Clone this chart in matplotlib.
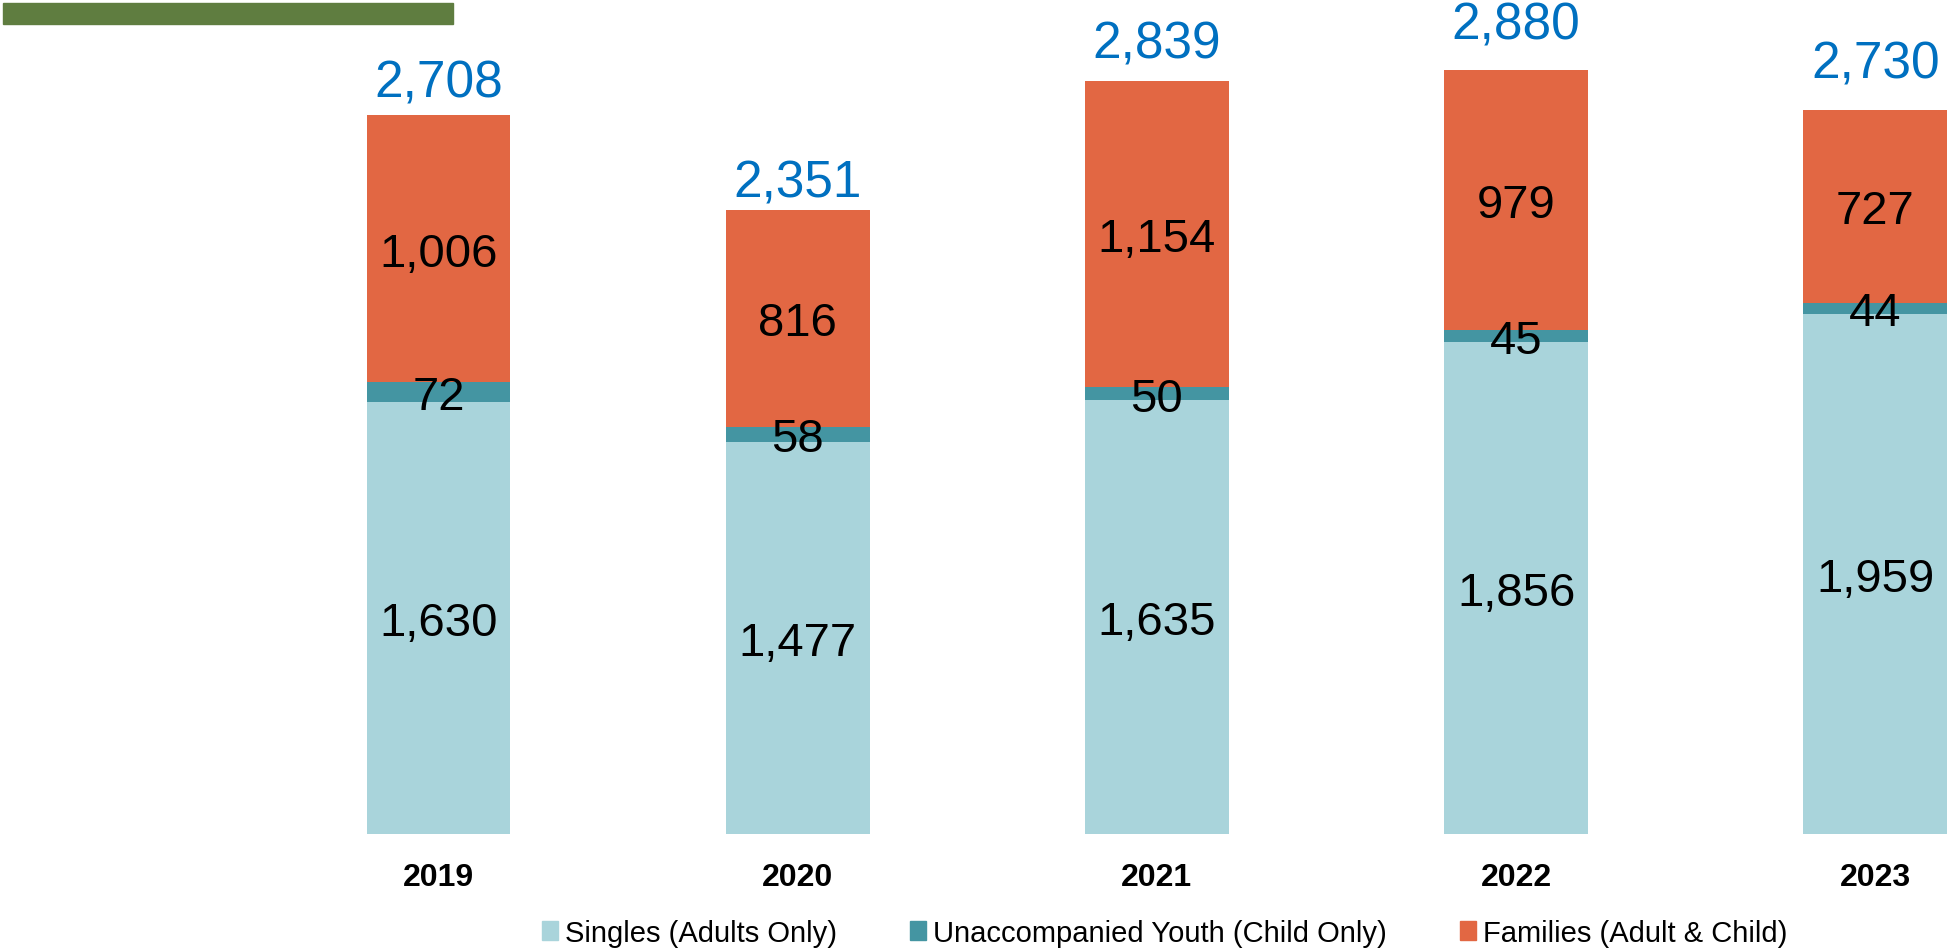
import matplotlib
matplotlib.use("Agg")
import matplotlib.pyplot as plt
from matplotlib.patches import Patch, Rectangle

# --- Data ---
years = ["2019", "2020", "2021", "2022", "2023"]
singles = [1630, 1477, 1635, 1856, 1959]
youth = [72, 58, 50, 45, 44]
families = [1006, 816, 1154, 979, 727]
totals = [2708, 2351, 2839, 2880, 2730]

labels = ["Singles (Adults Only)", "Unaccompanied Youth (Child Only)", "Families (Adult & Child)"]
colors = ["#A9D4DB", "#4495A2", "#E26743"]
total_color = "#0070C0"
# gap above each bar for the total label (points), as placed in the original
total_pad = [27, 23.5, 30.5, 36.5, 37]

plt.rcParams["font.family"] = ["Liberation Sans", "DejaVu Sans"]

fig = plt.figure(figsize=(19.51, 9.53), dpi=100)
ax = fig.add_axes([0, 1 - 835 / 953, 1, 835 / 953])

x = list(range(len(years)))
w = 0.4
b2 = [s + y for s, y in zip(singles, youth)]

ax.bar(x, singles, w, color=colors[0])
ax.bar(x, youth, w, bottom=singles, color=colors[1])
ax.bar(x, families, w, bottom=b2, color=colors[2])

for i in x:
    ax.text(i, singles[i] / 2, f"{singles[i]:,}", ha="center", va="center_baseline", fontsize=34)
    ax.text(i, singles[i] + youth[i] / 2, f"{youth[i]:,}", ha="center", va="center_baseline", fontsize=34)
    ax.text(i, b2[i] + families[i] / 2, f"{families[i]:,}", ha="center", va="center_baseline", fontsize=34)
    ax.annotate(f"{totals[i]:,}", (i, totals[i]), xytext=(0, total_pad[i]), textcoords="offset points",
                ha="center", va="center_baseline", fontsize=37, color=total_color)

ax.set_xlim(-1.2208, 4.2108)
ax.set_ylim(0, 3147)
ax.set_xticks(x)
ax.set_xticklabels(years, fontsize=23, fontweight="bold")
ax.tick_params(axis="x", length=0, pad=20)
ax.set_yticks([])
for sp in ax.spines.values():
    sp.set_visible(False)
ax.patch.set_visible(False)

# green accent bar at top left
fig.patches.append(Rectangle((0.0015, 1 - 25 / 953), 450 / 1951, 21 / 953,
                             transform=fig.transFigure, color="#5F7D40"))

handles = [Patch(color=c) for c in colors]
fig.legend(handles, labels, loc="center", bbox_to_anchor=(0.597, 0.02), ncol=3,
           frameon=False, fontsize=21, handlelength=0.55, handleheight=0.65,
           handletextpad=0.25, columnspacing=2.5)

fig.savefig("out.png", dpi=100)
